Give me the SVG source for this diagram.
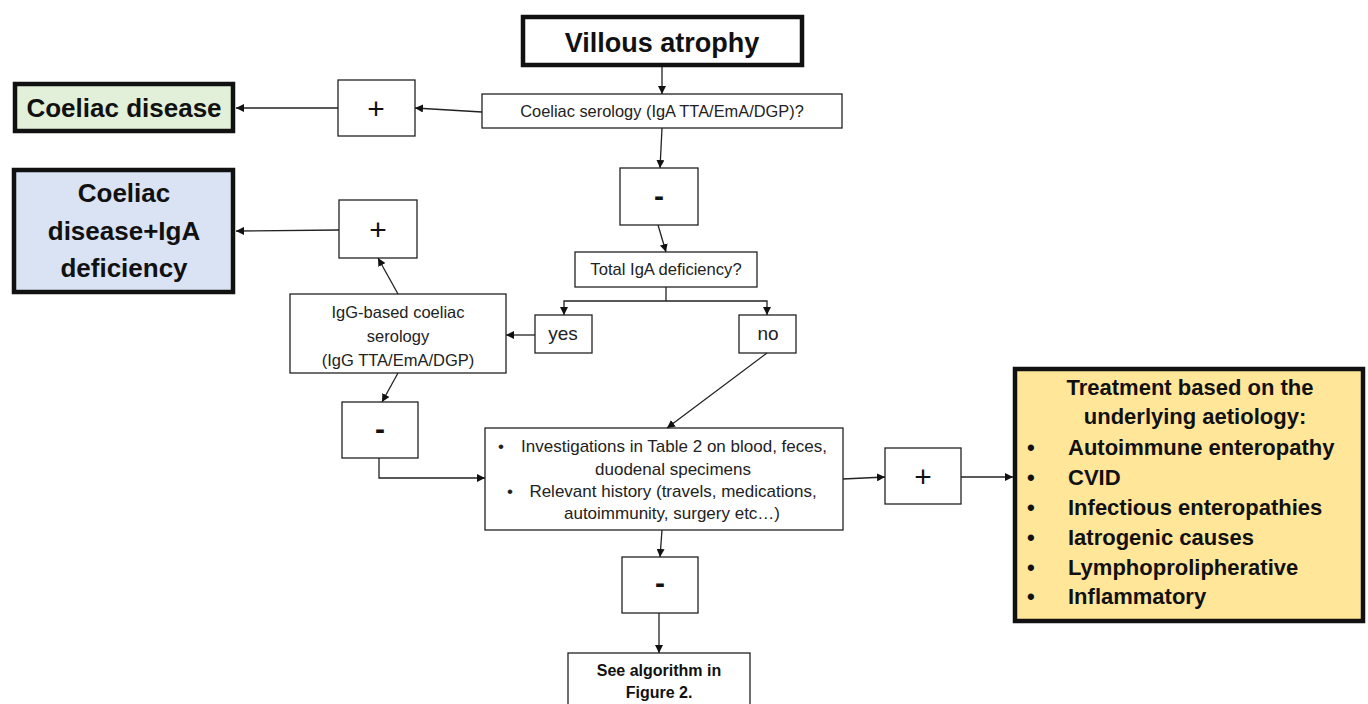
<svg xmlns="http://www.w3.org/2000/svg" width="1368" height="704" viewBox="0 0 1368 704">
<style>
.box{fill:#fff;stroke:#222;stroke-width:1.3}
.thick{stroke:#111;stroke-width:4.5}
.t{font-family:"Liberation Sans",Arial,sans-serif;fill:#222;text-anchor:middle}
.b{font-weight:bold;fill:#111}
.sign{font-family:"Liberation Sans",Arial,sans-serif;fill:#111;text-anchor:middle;font-size:30px}
.ln{fill:none;stroke:#222;stroke-width:1.3;marker-end:url(#ah)}
.tl{fill:none;stroke:#222;stroke-width:1.3}
.tr{font-family:"Liberation Sans",Arial,sans-serif;font-weight:bold;font-size:22px;fill:#111}
</style>
<defs>
<marker id="ah" viewBox="0 0 10 10" refX="10" refY="5" markerWidth="8" markerHeight="8" markerUnits="userSpaceOnUse" orient="auto">
<path d="M0,0 L10,5 L0,10 z" fill="#111"/>
</marker>
</defs>
<rect width="1368" height="704" fill="#fff"/>

<g id="villous">
<rect class="box thick" x="523" y="17" width="279" height="48"/>
<text class="t b" x="662" y="52" font-size="27">Villous atrophy</text>
</g>
<g id="serology">
<rect class="box" x="482" y="94" width="360" height="34"/>
<text class="t" x="662" y="117" font-size="16.4">Coeliac serology (IgA TTA/EmA/DGP)?</text>
</g>
<g id="plus1">
<rect class="box" x="338" y="80" width="77" height="56"/>
<text class="sign" x="376" y="119">+</text>
</g>
<g id="coeliac">
<rect class="box thick" x="15" y="84" width="218" height="47" style="fill:#e2efd9"/>
<text class="t b" x="124" y="117" font-size="26">Coeliac disease</text>
</g>
<g id="minus1">
<rect class="box" x="620" y="168" width="78" height="57"/>
<text class="sign" x="659" y="206" font-size="26" font-weight="bold">-</text>
</g>
<g id="totaliga">
<rect class="box" x="575" y="252" width="182" height="35"/>
<text class="t" x="666" y="275" font-size="16.6">Total IgA deficiency?</text>
</g>
<g id="plus2">
<rect class="box" x="339" y="200" width="78" height="58"/>
<text class="sign" x="378" y="240">+</text>
</g>
<g id="coeliaciga">
<rect class="box thick" x="14" y="170" width="219" height="122" style="fill:#dae3f3"/>
<text class="t b" x="124" y="202" font-size="26">Coeliac</text>
<text class="t b" x="124" y="240" font-size="26">disease+IgA</text>
<text class="t b" x="124" y="277" font-size="26">deficiency</text>
</g>
<g id="igg">
<rect class="box" x="290" y="294" width="216" height="79"/>
<text class="t" x="398" y="318" font-size="16.5">IgG-based coeliac</text>
<text class="t" x="398" y="342" font-size="16.5">serology</text>
<text class="t" x="398" y="366" font-size="16.5">(IgG TTA/EmA/DGP)</text>
</g>
<g id="yes">
<rect class="box" x="535" y="315" width="57" height="38"/>
<text class="t" x="563" y="340" font-size="19">yes</text>
</g>
<g id="no">
<rect class="box" x="739" y="315" width="57" height="38"/>
<text class="t" x="768" y="340" font-size="19">no</text>
</g>
<g id="minus2">
<rect class="box" x="342" y="402" width="76" height="56"/>
<text class="sign" x="380" y="439" font-size="26" font-weight="bold">-</text>
</g>
<g id="investigations">
<rect class="box" x="485" y="428" width="358" height="102"/>
<text class="t" x="501" y="452" font-size="17">•</text>
<text class="t" x="674" y="452" font-size="17">Investigations in Table 2 on blood, feces,</text>
<text class="t" x="673" y="475" font-size="17">duodenal  specimens</text>
<text class="t" x="510" y="497" font-size="17">•</text>
<text class="t" x="673" y="497" font-size="17">Relevant history (travels, medications,</text>
<text class="t" x="672" y="519" font-size="17">autoimmunity,  surgery etc…)</text>
</g>
<g id="plus3">
<rect class="box" x="885" y="448" width="76" height="56"/>
<text class="sign" x="923" y="487">+</text>
</g>
<g id="treatment">
<rect class="box thick" x="1015" y="369" width="348" height="252" style="fill:#ffe699"/>
<text class="tr" x="1190" y="395" text-anchor="middle">Treatment based on the</text>
<text class="tr" x="1195" y="424" text-anchor="middle">underlying aetiology:</text>
<text class="tr" x="1027" y="455">•</text><text class="tr" x="1068" y="455">Autoimmune enteropathy</text>
<text class="tr" x="1027" y="485">•</text><text class="tr" x="1068" y="485">CVID</text>
<text class="tr" x="1027" y="515">•</text><text class="tr" x="1068" y="515">Infectious enteropathies</text>
<text class="tr" x="1027" y="545">•</text><text class="tr" x="1068" y="545">Iatrogenic causes</text>
<text class="tr" x="1027" y="575">•</text><text class="tr" x="1068" y="575">Lymphoprolipherative</text>
<text class="tr" x="1027" y="604">•</text><text class="tr" x="1068" y="604">Inflammatory</text>
</g>
<g id="minus3">
<rect class="box" x="622" y="557" width="76" height="56"/>
<text class="sign" x="660" y="593" font-size="26" font-weight="bold">-</text>
</g>
<g id="seealgo">
<rect class="box" x="568" y="653" width="182" height="60"/>
<text class="t b" x="659" y="676" font-size="16">See algorithm in</text>
<text class="t b" x="659" y="698" font-size="16">Figure 2.</text>
</g>

<g id="connectors">
<line class="ln" x1="662" y1="67" x2="662" y2="94"/>
<line class="ln" x1="482" y1="112" x2="415" y2="108"/>
<line class="ln" x1="338" y1="108" x2="236" y2="108"/>
<line class="ln" x1="662" y1="128" x2="660" y2="168"/>
<line class="ln" x1="658" y1="225" x2="666" y2="252"/>
<polyline class="tl" points="666,287 666,301"/>
<polyline class="ln" points="666,301 564,301 564,315"/>
<polyline class="ln" points="666,301 767,301 767,315"/>
<line class="ln" x1="535" y1="335" x2="506" y2="335"/>
<line class="ln" x1="398" y1="294" x2="378" y2="258"/>
<line class="ln" x1="339" y1="230" x2="236" y2="231"/>
<line class="ln" x1="398" y1="373" x2="382" y2="402"/>
<polyline class="ln" points="379,458 379,478 485,478"/>
<line class="ln" x1="767" y1="353" x2="667" y2="428"/>
<line class="ln" x1="843" y1="479" x2="885" y2="477"/>
<line class="ln" x1="961" y1="477" x2="1013" y2="477"/>
<line class="ln" x1="662" y1="530" x2="660" y2="557"/>
<line class="ln" x1="659" y1="613" x2="659" y2="653"/>
</g>
</svg>
